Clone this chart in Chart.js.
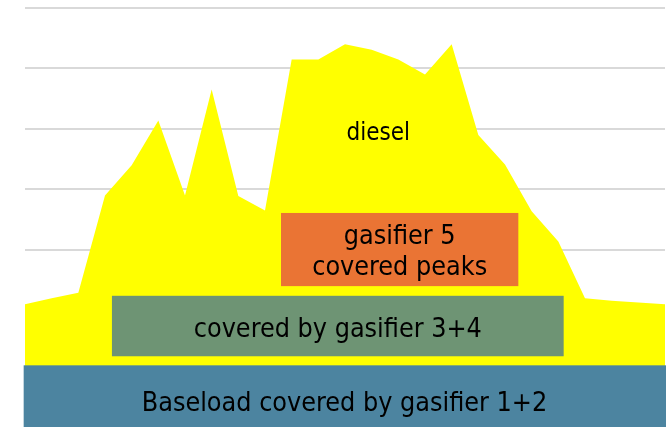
<!DOCTYPE html>
<html>
<head>
<meta charset="utf-8">
<title>Gasifier load coverage</title>
<script src="https://cdn.jsdelivr.net/npm/chart.js@4"></script>
<style>
    html, body { margin: 0; padding: 0; background: #ffffff; overflow: hidden; }
    #chart-wrap { width: 666px; height: 427px; position: relative; }
</style>
</head>
<body>
<div id="chart-wrap"><canvas id="load-chart"></canvas></div>
<script>
// Hours of the day (x axis)
const hours = [0, 1, 2, 3, 4, 5, 6, 7, 8, 9, 10, 11, 12, 13, 14, 15, 16, 17, 18, 19, 20, 21, 22, 23, 24];

// Total load per hour, the yellow part above the blocks is diesel
const loadValues = [210, 220, 229, 390, 440, 514, 390, 565, 389, 365, 615, 615, 640,
                    631, 615, 590, 640, 490, 441, 364, 314, 220, 216, 213, 210];

// Grid lines of the value axis
const yTicks = [100, 200, 300, 400, 500, 600, 700];

// Blocks covered by the gasifiers (hour start/end, load low/high)
const blockX0 = [-0.05, 3.26, 9.6];
const blockX1 = [24.05, 20.2, 18.5];
const blockY0 = [0, 124, 240];
const blockY1 = [109, 224, 361];
const blockColors = ['#4c84a0', '#6e9474', '#ea7434'];

// Text labels, anchored in hour / load units (baseline)
const labelTexts = ['diesel', 'gasifier 5', 'covered peaks', 'covered by gasifier 3+4', 'Baseload covered by gasifier 1+2'];
const labelX = [13.25, 14.05, 14.05, 11.73, 11.98];
const labelY = [481, 309, 258, 155.5, 33];
const labelSizes = [24, 26.7, 26.7, 26.7, 26.7];

const fontFamily = '"DejaVu Sans Condensed", "Liberation Sans", sans-serif';

// Plugin: draw the gasifier blocks and the labels on top of the area
const blocksPlugin = {
    id: 'blocks',
    afterDatasetsDraw(chart) {
        const ctx = chart.ctx;
        const xs = chart.scales.x;
        const ys = chart.scales.y;

        ctx.save();
        blockX0.forEach((x0, i) => {
            const left = xs.getPixelForValue(x0);
            const right = xs.getPixelForValue(blockX1[i]);
            const top = ys.getPixelForValue(blockY1[i]);
            const bottom = ys.getPixelForValue(blockY0[i]);
            ctx.fillStyle = blockColors[i];
            ctx.fillRect(left, top, right - left, bottom - top);
        });

        ctx.fillStyle = '#000000';
        ctx.textAlign = 'center';
        ctx.textBaseline = 'alphabetic';
        labelTexts.forEach((text, i) => {
            ctx.font = labelSizes[i] + 'px ' + fontFamily;
            ctx.fillText(text, xs.getPixelForValue(labelX[i]), ys.getPixelForValue(labelY[i]));
        });
        ctx.restore();
    }
};

const ctx = document.getElementById('load-chart').getContext('2d');

const loadChart = new Chart(ctx, {
    type: 'line',
    data: {
        datasets: [{
            label: 'diesel',
            data: hours.map((h, i) => ({ x: h, y: loadValues[i] })),
            backgroundColor: '#ffff00',
            borderWidth: 0,
            pointRadius: 0,
            tension: 0,
            fill: 'start'
        }]
    },
    options: {
        responsive: true,
        maintainAspectRatio: false,
        animation: false,
        devicePixelRatio: 1,
        layout: {
            padding: { left: 25, right: 1, top: 8, bottom: 0 }
        },
        plugins: {
            legend: { display: false },
            tooltip: { enabled: false }
        },
        scales: {
            x: {
                type: 'linear',
                min: 0,
                max: 24,
                display: false
            },
            y: {
                min: 7,
                max: 700,
                afterBuildTicks: axis => {
                    axis.ticks = yTicks.map(v => ({ value: v }));
                },
                ticks: { display: false },
                border: { display: false },
                grid: {
                    color: '#d9d9d9',
                    lineWidth: 2,
                    drawTicks: false
                }
            }
        }
    },
    plugins: [blocksPlugin]
});
</script>
</body>
</html>
